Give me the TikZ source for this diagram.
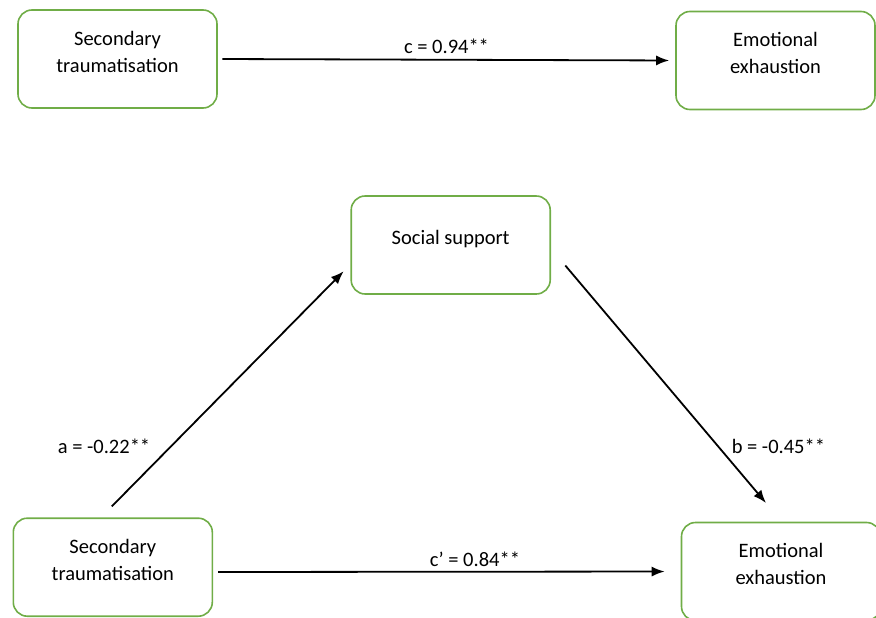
\documentclass[tikz,border=0pt]{standalone}
\usepackage{fontspec}
\setmainfont{Carlito}
\usepackage{xcolor}
\usepackage{tikz}
\usetikzlibrary{arrows.meta,positioning,calc}

\definecolor{boxgreen}{HTML}{70AD47}
\newcommand{\boxlines}[1]{\raisebox{5.5pt}[\height][\depth]{\begin{tabular}{@{}c@{}}#1\end{tabular}}}

\begin{document}
\begin{tikzpicture}[x=1pt,y=-1pt,>={Latex[length=13pt,width=10pt]},
    varbox/.style={draw=boxgreen,line width=1.6pt,rounded corners=14pt,
      minimum width=199pt,minimum height=98pt,inner sep=0pt},
    effect/.style={->,line width=1.8pt},
    coef/.style={anchor=base,inner sep=0pt}]
  \fontsize{20.5}{27}\selectfont
  \useasboundingbox (0,0) rectangle (876,618);

  % total effect
  \node[varbox] (trauma) at (117.5,59) {\boxlines{Secondary\\traumatisation}};
  \node[varbox] (exhaust) at (775.5,60.5) {\boxlines{Emotional\\exhaustion}};
  \draw[effect,shorten <=4.5pt,shorten >=6pt] (trauma.east) -- (exhaust.west)
    node[coef,midway,yshift=6pt] {c = 0.94**};

  % mediation model
  \node[varbox] (support) at (450.7,245) {\boxlines{Social support}};
  \node[varbox] (traumaM) at (112.8,567.2) {\boxlines{Secondary\\traumatisation}};
  \node[varbox] (exhaustM) at (781,571.5) {\boxlines{Emotional\\exhaustion}};

  \draw[effect] ([xshift=-1pt,yshift=11pt]traumaM.north)
    -- ([xshift=-6.7pt,yshift=23.6pt]support.south west)
    node[coef,anchor=base east,pos=0.2255,xshift=-13pt] {a = -0.22**};
  \draw[effect] ([xshift=14.3pt,yshift=29.3pt]support.south east)
    -- ([xshift=-15pt,yshift=18.7pt]exhaustM.north)
    node[coef,anchor=base west,pos=0.79,xshift=7pt] {b = -0.45**};
  \draw[effect,shorten <=5pt,shorten >=16pt] ([yshift=-4.8pt]traumaM.east)
    -- (exhaustM.west)
    node[coef,pos=0.56,yshift=5pt] {c’ = 0.84**};
\end{tikzpicture}
\end{document}
